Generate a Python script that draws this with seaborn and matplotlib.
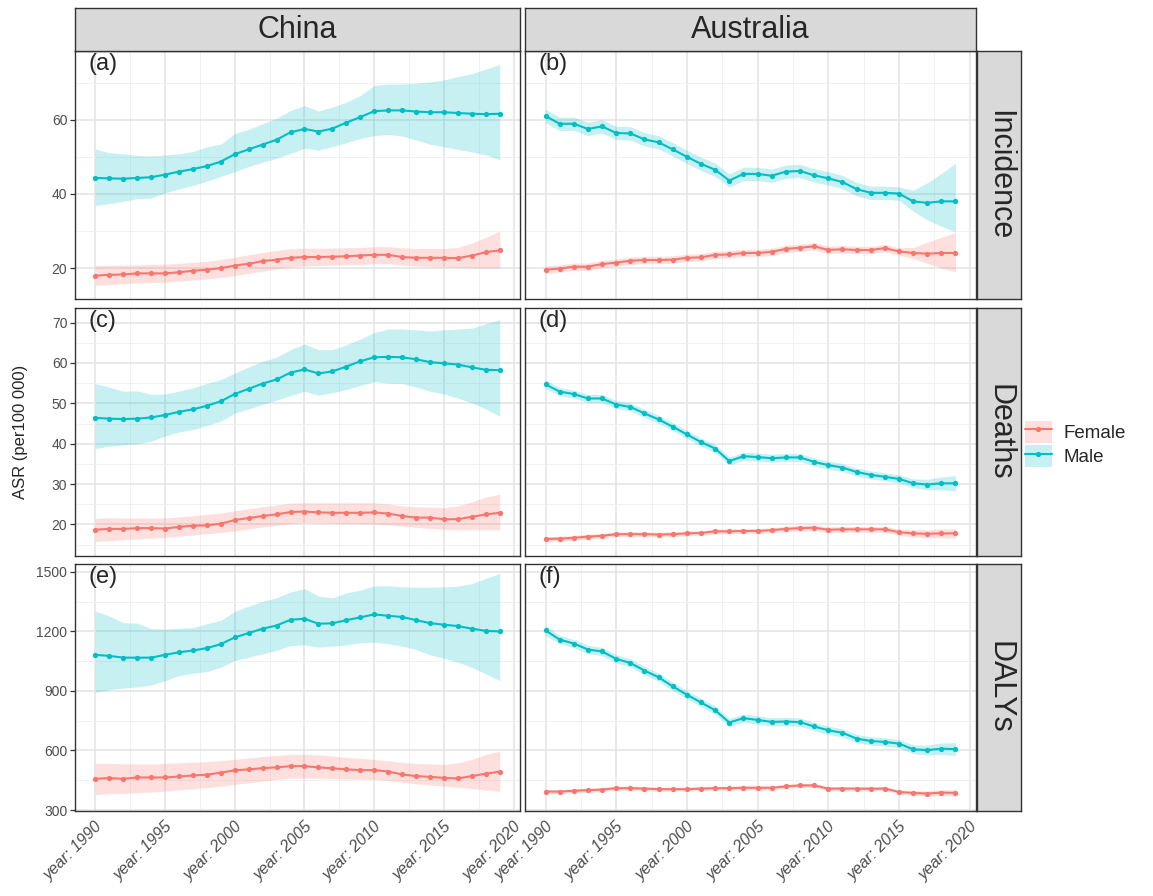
import numpy as np
import pandas as pd
import matplotlib
matplotlib.use("Agg")
import matplotlib.pyplot as plt
import seaborn as sns
from matplotlib.patches import Patch
from matplotlib.lines import Line2D
from matplotlib.legend_handler import HandlerTuple
from matplotlib.ticker import MultipleLocator

# Data (ASR per 100 000, with uncertainty bounds), 1990-2019
years = list(range(1990, 2020))
countries = ["China", "Australia"]
measures = ["Incidence", "Deaths", "DALYs"]
sexes = ["Female", "Male"]
xtick_years = [1990, 1995, 2000, 2005, 2010, 2015, 2020]

# China - Incidence
cn_inc_m = [44.3, 44.2, 44.1, 44.3, 44.5, 45.2, 46.0, 46.7, 47.5, 48.7, 50.7, 52.0, 53.3, 54.6, 56.6,
            57.5, 56.8, 57.6, 59.2, 60.7, 62.3, 62.5, 62.5, 62.2, 62.0, 62.0, 61.8, 61.6, 61.5, 61.6]
cn_inc_m_lo = [36.9, 37.4, 38.0, 38.7, 38.9, 40.3, 41.3, 42.3, 43.4, 44.7, 46.0, 47.4, 48.5, 49.6, 50.9,
               52.3, 51.8, 52.7, 53.8, 54.9, 55.7, 56.0, 55.6, 54.5, 53.4, 52.7, 52.0, 51.3, 50.5, 49.2]
cn_inc_m_hi = [52.1, 51.1, 50.8, 50.4, 50.2, 50.5, 50.8, 51.4, 52.7, 53.4, 56.3, 57.4, 58.9, 60.4, 62.5,
               63.8, 62.3, 63.4, 64.7, 66.5, 69.2, 69.6, 69.6, 69.8, 70.2, 70.7, 71.6, 72.4, 73.6, 74.9]
cn_inc_f = [18.0, 18.2, 18.3, 18.6, 18.6, 18.6, 18.9, 19.3, 19.6, 20.0, 20.7, 21.2, 21.9, 22.3, 22.8,
            23.0, 23.0, 23.1, 23.2, 23.4, 23.6, 23.6, 23.0, 22.8, 22.8, 22.8, 22.7, 23.4, 24.3, 24.8]
cn_inc_f_lo = [15.4, 15.6, 15.8, 16.0, 16.1, 16.2, 16.5, 16.8, 17.1, 17.5, 18.0, 18.6, 19.2, 19.8, 20.3,
               20.6, 20.7, 20.8, 20.9, 21.0, 21.2, 21.2, 20.8, 20.6, 20.4, 20.3, 20.2, 20.1, 20.0, 20.0]
cn_inc_f_hi = [20.7, 20.8, 20.8, 20.9, 21.0, 21.1, 21.3, 21.6, 21.9, 22.3, 23.0, 23.6, 24.2, 24.8, 25.2,
               25.4, 25.4, 25.4, 25.5, 25.6, 25.8, 25.8, 25.5, 25.3, 25.3, 25.3, 25.6, 26.8, 28.3, 30.0]

# Australia - Incidence
au_inc_m = [61.0, 58.9, 58.9, 57.5, 58.2, 56.4, 56.3, 54.7, 53.9, 52.0, 50.0, 48.1, 46.5, 43.6, 45.4,
            45.4, 44.9, 46.0, 46.2, 45.0, 44.2, 43.2, 41.3, 40.3, 40.3, 40.1, 38.0, 37.6, 38.0, 38.0]
au_inc_m_lo = [59.2, 57.1, 57.1, 55.7, 56.4, 54.6, 54.5, 52.9, 52.1, 50.2, 48.2, 46.3, 44.7, 41.8, 43.6,
               43.6, 43.1, 44.2, 44.4, 43.2, 42.4, 41.4, 39.5, 38.5, 38.5, 38.3, 35.4, 33.0, 31.3, 29.8]
au_inc_m_hi = [62.8, 60.7, 60.7, 59.3, 60.0, 58.2, 58.1, 56.5, 55.7, 53.8, 51.8, 49.9, 48.3, 45.4, 47.2,
               47.2, 46.7, 47.8, 48.0, 46.8, 46.0, 45.0, 43.1, 42.1, 42.1, 41.9, 41.0, 43.0, 45.5, 48.3]
au_inc_f = [19.6, 19.9, 20.4, 20.4, 21.1, 21.5, 22.0, 22.2, 22.2, 22.3, 22.8, 22.9, 23.6, 23.7, 24.1,
            24.1, 24.4, 25.2, 25.5, 25.9, 24.9, 25.1, 24.9, 24.9, 25.4, 24.5, 24.1, 23.9, 24.1, 24.1]
au_inc_f_lo = [18.6, 18.9, 19.4, 19.4, 20.1, 20.5, 21.0, 21.2, 21.2, 21.3, 21.8, 21.9, 22.6, 22.7, 23.1,
               23.1, 23.4, 24.2, 24.5, 24.9, 23.9, 24.1, 23.9, 23.9, 24.4, 23.5, 22.6, 21.3, 20.1, 19.0]
au_inc_f_hi = [20.6, 20.9, 21.4, 21.4, 22.1, 22.5, 23.0, 23.2, 23.2, 23.3, 23.8, 23.9, 24.6, 24.7, 25.1,
               25.1, 25.4, 26.2, 26.5, 26.9, 25.9, 26.1, 25.9, 25.9, 26.4, 25.5, 25.6, 27.0, 28.3, 29.7]

# China - Deaths
cn_dth_m = [46.4, 46.2, 46.1, 46.2, 46.5, 47.1, 47.9, 48.5, 49.4, 50.5, 52.3, 53.6, 54.9, 55.9, 57.6,
            58.4, 57.4, 57.9, 59.1, 60.4, 61.4, 61.5, 61.4, 60.9, 60.2, 59.9, 59.6, 58.9, 58.3, 58.2]
cn_dth_m_lo = [38.8, 39.4, 39.7, 40.0, 40.6, 41.9, 42.9, 43.5, 44.5, 45.6, 47.6, 48.6, 49.7, 50.8, 51.9,
               53.0, 52.0, 52.6, 53.4, 54.4, 55.4, 55.0, 54.9, 54.0, 53.0, 52.3, 51.3, 50.1, 48.6, 46.8]
cn_dth_m_hi = [54.9, 54.0, 53.0, 53.1, 52.2, 52.3, 53.0, 53.8, 54.9, 55.9, 57.5, 59.0, 60.4, 61.4, 63.3,
               64.7, 63.3, 63.3, 64.5, 65.9, 67.5, 68.4, 68.4, 68.2, 67.9, 68.2, 68.4, 68.6, 69.7, 70.7]
cn_dth_f = [18.7, 18.9, 18.9, 19.1, 19.1, 19.0, 19.4, 19.7, 19.8, 20.2, 21.1, 21.6, 22.1, 22.5, 23.1,
            23.2, 23.0, 22.9, 22.9, 22.9, 23.0, 22.7, 22.1, 21.7, 21.7, 21.3, 21.3, 21.9, 22.5, 22.9]
cn_dth_f_lo = [15.8, 16.0, 16.2, 16.4, 16.6, 16.8, 17.1, 17.4, 17.7, 18.0, 18.4, 18.9, 19.4, 19.8, 20.2,
               20.5, 20.4, 20.3, 20.2, 20.2, 20.1, 19.9, 19.6, 19.3, 19.0, 18.8, 18.7, 18.7, 18.7, 18.7]
cn_dth_f_hi = [21.5, 21.7, 21.6, 21.6, 21.6, 21.6, 21.9, 22.2, 22.5, 22.8, 23.4, 23.9, 24.4, 24.8, 25.3,
               25.4, 25.4, 25.4, 25.4, 25.4, 25.4, 25.1, 24.6, 24.4, 24.3, 24.2, 24.6, 25.6, 26.8, 27.5]

# Australia - Deaths
au_dth_m = [54.7, 52.9, 52.3, 51.2, 51.2, 49.7, 49.1, 47.5, 46.0, 44.2, 42.3, 40.4, 38.8, 35.7, 36.9,
            36.7, 36.4, 36.6, 36.6, 35.5, 34.7, 34.1, 33.0, 32.3, 31.8, 31.3, 30.2, 29.9, 30.2, 30.2]
au_dth_m_lo = [53.6, 51.9, 51.3, 50.2, 50.2, 48.7, 48.1, 46.5, 45.0, 43.2, 41.3, 39.4, 37.8, 34.7, 35.9,
               35.7, 35.4, 35.6, 35.6, 34.5, 33.7, 33.1, 32.0, 31.3, 30.8, 30.3, 29.1, 28.6, 28.6, 28.3]
au_dth_m_hi = [55.8, 53.9, 53.3, 52.2, 52.2, 50.7, 50.1, 48.5, 47.0, 45.2, 43.3, 41.4, 39.8, 36.7, 37.9,
               37.7, 37.4, 37.6, 37.6, 36.5, 35.7, 35.1, 34.0, 33.3, 32.8, 32.3, 31.3, 31.2, 31.8, 32.1]
au_dth_f = [16.4, 16.5, 16.7, 17.0, 17.2, 17.6, 17.6, 17.6, 17.5, 17.6, 17.8, 17.9, 18.3, 18.3, 18.4,
            18.4, 18.6, 18.9, 19.1, 19.2, 18.7, 18.8, 18.8, 18.8, 18.8, 18.1, 17.8, 17.7, 17.8, 17.8]
au_dth_f_lo = [15.8, 15.9, 16.1, 16.4, 16.6, 17.0, 17.0, 17.0, 16.9, 17.0, 17.2, 17.3, 17.7, 17.7, 17.8,
               17.8, 18.0, 18.2, 18.4, 18.5, 18.0, 18.1, 18.1, 18.1, 18.1, 17.3, 16.9, 16.7, 16.7, 16.6]
au_dth_f_hi = [17.0, 17.1, 17.3, 17.6, 17.8, 18.2, 18.2, 18.2, 18.1, 18.2, 18.4, 18.5, 18.9, 18.9, 19.0,
               19.0, 19.2, 19.6, 19.8, 19.9, 19.4, 19.5, 19.5, 19.5, 19.5, 18.9, 18.7, 18.7, 18.9, 19.0]

# China - DALYs
cn_daly_m = [1082, 1077, 1068, 1068, 1068, 1082, 1095, 1104, 1116, 1136, 1170, 1192, 1214, 1230, 1259,
             1264, 1239, 1241, 1257, 1271, 1286, 1279, 1273, 1257, 1242, 1234, 1227, 1214, 1203, 1200]
cn_daly_m_lo = [893, 906, 915, 920, 930, 952, 977, 989, 997, 1019, 1053, 1070, 1087, 1104, 1129,
                1132, 1121, 1126, 1132, 1143, 1146, 1138, 1126, 1109, 1082, 1065, 1045, 1019, 986, 952]
cn_daly_m_hi = [1303, 1278, 1244, 1242, 1214, 1212, 1217, 1219, 1239, 1256, 1301, 1328, 1352, 1370, 1399,
                1416, 1379, 1369, 1394, 1408, 1430, 1430, 1425, 1423, 1423, 1425, 1428, 1441, 1467, 1492]
cn_daly_f = [457, 461, 457, 464, 464, 464, 469, 474, 478, 488, 500, 505, 511, 515, 521,
             521, 515, 510, 505, 501, 501, 494, 479, 471, 467, 462, 459, 471, 483, 493]
cn_daly_f_lo = [378, 382, 384, 387, 390, 395, 401, 407, 413, 420, 429, 437, 446, 454, 460,
                462, 460, 458, 456, 455, 454, 448, 440, 432, 426, 420, 414, 408, 400, 395]
cn_daly_f_hi = [535, 535, 533, 533, 532, 535, 538, 541, 544, 549, 555, 562, 570, 575, 580,
                580, 578, 572, 566, 560, 555, 548, 540, 535, 532, 530, 538, 555, 580, 597]

# Australia - DALYs
au_daly_m = [1205, 1159, 1139, 1109, 1099, 1062, 1041, 1003, 969, 923, 881, 842, 803, 741, 763,
             754, 744, 746, 743, 721, 702, 689, 660, 648, 643, 635, 606, 602, 609, 607]
au_daly_m_lo = [1180, 1138, 1118, 1088, 1078, 1041, 1020, 982, 948, 902, 860, 821, 782, 720, 742,
                733, 723, 725, 722, 700, 681, 668, 639, 627, 622, 614, 584, 577, 580, 575]
au_daly_m_hi = [1230, 1180, 1160, 1130, 1120, 1083, 1062, 1024, 990, 944, 902, 863, 824, 762, 784,
                775, 765, 767, 764, 742, 723, 710, 681, 669, 664, 656, 628, 627, 638, 640]
au_daly_f = [393, 393, 397, 400, 403, 410, 410, 408, 405, 405, 405, 408, 410, 410, 412,
             412, 412, 419, 424, 424, 408, 408, 408, 407, 408, 391, 386, 383, 388, 386]
au_daly_f_lo = [383, 383, 387, 390, 393, 400, 400, 398, 395, 395, 395, 398, 400, 400, 402,
                402, 402, 409, 414, 414, 398, 398, 398, 397, 398, 381, 374, 369, 373, 370]
au_daly_f_hi = [403, 403, 407, 410, 413, 420, 420, 418, 415, 415, 415, 418, 420, 420, 422,
                422, 422, 429, 434, 434, 418, 418, 418, 417, 418, 401, 398, 397, 403, 402]

series = {
    ("Incidence", "China"): (cn_inc_f, cn_inc_f_lo, cn_inc_f_hi, cn_inc_m, cn_inc_m_lo, cn_inc_m_hi),
    ("Incidence", "Australia"): (au_inc_f, au_inc_f_lo, au_inc_f_hi, au_inc_m, au_inc_m_lo, au_inc_m_hi),
    ("Deaths", "China"): (cn_dth_f, cn_dth_f_lo, cn_dth_f_hi, cn_dth_m, cn_dth_m_lo, cn_dth_m_hi),
    ("Deaths", "Australia"): (au_dth_f, au_dth_f_lo, au_dth_f_hi, au_dth_m, au_dth_m_lo, au_dth_m_hi),
    ("DALYs", "China"): (cn_daly_f, cn_daly_f_lo, cn_daly_f_hi, cn_daly_m, cn_daly_m_lo, cn_daly_m_hi),
    ("DALYs", "Australia"): (au_daly_f, au_daly_f_lo, au_daly_f_hi, au_daly_m, au_daly_m_lo, au_daly_m_hi),
}

# long table
recs = []
for (meas, ctry), (f, flo, fhi, m, mlo, mhi) in series.items():
    for sex, v, lo, hi in [("Female", f, flo, fhi), ("Male", m, mlo, mhi)]:
        for i, yr in enumerate(years):
            recs.append(dict(measure=meas, country=ctry, sex=sex, year=yr, asr=v[i], lower=lo[i], upper=hi[i]))
df = pd.DataFrame(recs)

pal = {"Female": "#F8766D", "Male": "#00BFC4"}

sns.set_theme(style="white")
plt.rcParams['font.family'] = ['Liberation Sans', 'DejaVu Sans']

W, H = 1153, 896
fig = plt.figure(figsize=(W / 100, H / 100), dpi=100)


def box(x0, y0, x1, y1):
    return [x0 / W, 1 - y1 / H, (x1 - x0) / W, (y1 - y0) / H]


cols = [(75, 520), (525, 976)]
rows = [(51, 299), (308, 556), (564, 811)]
ylims = {"Incidence": (11.7, 78.5), "Deaths": (12.2, 73.6), "DALYs": (295, 1540)}
ysteps = {"Incidence": (20, 10), "Deaths": (10, 5), "DALYs": (300, 150)}
letters = "abcdef"
edge = "#333333"

for r, meas in enumerate(measures):
    for c, ctry in enumerate(countries):
        ax = fig.add_axes(box(cols[c][0], rows[r][0], cols[c][1], rows[r][1]))
        sub = df[(df.measure == meas) & (df.country == ctry)]
        for sex in sexes:
            s = sub[sub.sex == sex]
            ax.fill_between(s.year, s.lower, s.upper, color=pal[sex], alpha=0.22, lw=0)
        sns.lineplot(data=sub, x="year", y="asr", hue="sex", palette=pal, hue_order=sexes,
                     marker="o", markersize=3.8, markeredgewidth=0, linewidth=1.5,
                     errorbar=None, legend=False, ax=ax)
        ax.set_xlim(1988.55, 2020.45)
        ax.set_ylim(*ylims[meas])
        ax.xaxis.set_major_locator(MultipleLocator(5))
        ax.xaxis.set_minor_locator(MultipleLocator(2.5))
        ax.yaxis.set_major_locator(MultipleLocator(ysteps[meas][0]))
        ax.yaxis.set_minor_locator(MultipleLocator(ysteps[meas][1]))
        ax.set_axisbelow(True)
        ax.grid(which="major", color="#E3E3E3", lw=1.1)
        ax.grid(which="minor", color="#EFEFEF", lw=0.6)
        for sp in ax.spines.values():
            sp.set_color(edge)
            sp.set_linewidth(1.0)
        ax.set_xlabel("")
        ax.set_ylabel("")
        ax.tick_params(which="minor", length=0)
        ax.tick_params(which="major", length=3.5, width=0.9, color=edge,
                       labelcolor="#4D4D4D", labelsize=10, pad=2)
        ax.tick_params(axis="y", left=(c == 0), labelleft=(c == 0))
        if r == 2:
            ax.set_xticks(xtick_years)
            ax.set_xticklabels([f"year: {y}" for y in xtick_years], rotation=45, ha="right",
                               va="top", rotation_mode="anchor", style="italic", fontsize=11.5)
        else:
            ax.tick_params(axis="x", bottom=False, labelbottom=False)
        ax.text(0.03, 0.99, f"({letters[r * 2 + c]})", transform=ax.transAxes,
                ha="left", va="top", fontsize=17)

# column strips
for c, ctry in enumerate(countries):
    sa = fig.add_axes(box(cols[c][0], 8, cols[c][1], 51))
    sa.set_facecolor("#D9D9D9")
    sa.set_xticks([])
    sa.set_yticks([])
    for sp in sa.spines.values():
        sp.set_color(edge)
        sp.set_linewidth(1.0)
    sa.text(0.5, 0.5, ctry, ha="center", va="center", fontsize=22, transform=sa.transAxes)

# row strips
for r, meas in enumerate(measures):
    sa = fig.add_axes(box(977, rows[r][0], 1021, rows[r][1]))
    sa.set_facecolor("#D9D9D9")
    sa.set_xticks([])
    sa.set_yticks([])
    for sp in sa.spines.values():
        sp.set_color(edge)
        sp.set_linewidth(1.0)
    sa.text(0.5, 0.5, meas, ha="center", va="center", fontsize=22, rotation=-90,
            transform=sa.transAxes)

fig.text(21 / W, 1 - 432 / H, "ASR (per100 000)", rotation=90, ha="center", va="center", fontsize=12)

handles = [(Patch(facecolor=pal[s], alpha=0.22, edgecolor="none"),
            Line2D([], [], color=pal[s], marker="o", markersize=3.8, markeredgewidth=0, lw=1.5))
           for s in sexes]
fig.legend(handles, sexes, handler_map={tuple: HandlerTuple(ndivide=1)},
           loc="center left", bbox_to_anchor=(1008 / W, 1 - 444 / H), frameon=False,
           fontsize=13.5, handlelength=1.45, handleheight=1.45, labelspacing=0.12, handletextpad=0.6)

fig.savefig("out.png", dpi=100)
